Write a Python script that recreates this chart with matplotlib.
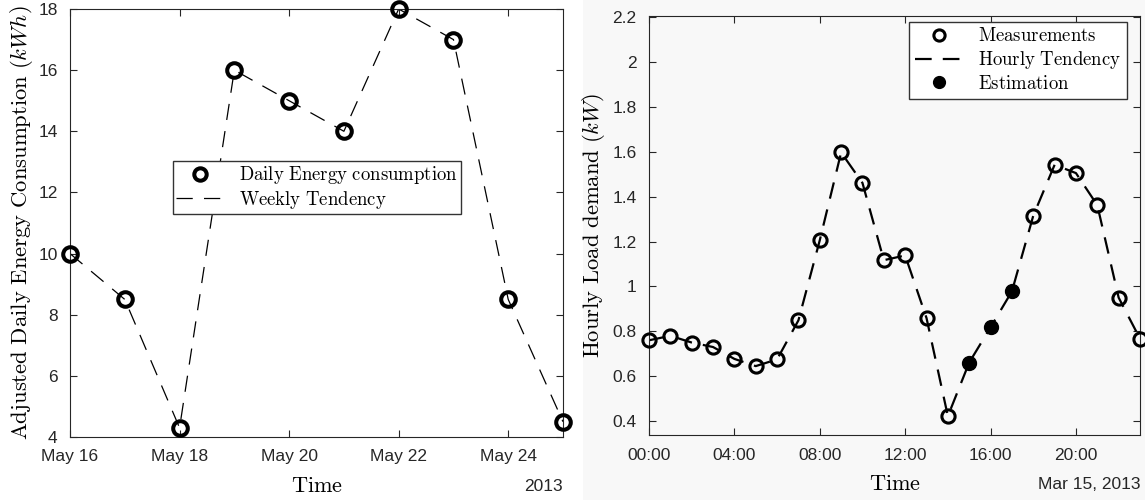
import matplotlib
matplotlib.use("Agg")
import matplotlib.pyplot as plt
import matplotlib.dates as mdates
from matplotlib.patches import Rectangle
import numpy as np
import datetime as dt

plt.rcParams['font.family'] = ['Liberation Sans', 'DejaVu Sans']
plt.rcParams['mathtext.fontset'] = 'cm'

# Left panel: daily energy consumption
days = [dt.datetime(2013, 5, d) for d in range(16, 26)]
daily_kwh = [10, 8.5, 4.3, 16, 15, 14, 18, 17, 8.5, 4.5]

# Right panel: hourly load on Mar 15, 2013
hours = [dt.datetime(2013, 3, 15, h) for h in range(24)]
hourly_kw = [0.76, 0.78, 0.75, 0.73, 0.677, 0.645, 0.675, 0.849, 1.206, 1.597,
             1.461, 1.117, 1.138, 0.859, 0.422, 0.661, 0.818, 0.978, 1.315, 1.542,
             1.505, 1.362, 0.95, 0.767]
est_idx = [15, 16, 17]
meas_idx = [i for i in range(24) if i not in est_idx]


def tex(s):
    return r'$\mathrm{' + s.replace(' ', r'\ ') + '}$'


fig = plt.figure(figsize=(11.45, 5), dpi=100)
fig.patches.append(Rectangle((583 / 1145, 0), 1 - 583 / 1145, 1, transform=fig.transFigure,
                             facecolor='#f8f8f8', edgecolor='none', zorder=-5))

ax1 = fig.add_axes([70 / 1145, 63 / 500, 493 / 1145, 428 / 500])
ax2 = fig.add_axes([649 / 1145, 65 / 500, 491 / 1145, 419 / 500])
ax2.set_facecolor('#f8f8f8')

# left
ax1.plot(days, daily_kwh, color='black', lw=0.9, linestyle=(0, (13, 9)), label=tex('Weekly Tendency'), zorder=2)
ax1.plot(days, daily_kwh, 'o', mfc='none', mec='black', mew=2.9, ms=10.5,
         label=tex('Daily Energy consumption'), zorder=3, clip_on=False)
ax1.set_xlim(days[0], days[-1])
ax1.set_ylim(4, 18)
ax1.set_yticks(range(4, 19, 2))
ax1.set_xticks(days[::2])
ax1.xaxis.set_major_formatter(mdates.DateFormatter('%b %d'))
ax1.set_ylabel(tex('Adjusted Daily Energy Consumption') + r'$\ (kWh)$', fontsize=16.3, labelpad=2)
ax1.set_xlabel(tex('Time'), fontsize=16, labelpad=8)
ax1.text(1.0, -0.098, '2013', transform=ax1.transAxes, ha='right', va='top', fontsize=12.5, color='#262626')
h, l = ax1.get_legend_handles_labels()
ax1.legend([h[1], h[0]], [l[1], l[0]], loc='center', bbox_to_anchor=(0.501, 0.583),
           fontsize=13.5, fancybox=False, edgecolor='#333333', framealpha=1,
           handlelength=2.6, borderpad=0.15, labelspacing=0.15, markerscale=0.85)

# right
ax2.plot(hours, hourly_kw, color='black', lw=1.6, linestyle=(0, (7.5, 5)), zorder=2, label=tex('Hourly Tendency'))
ax2.plot([hours[i] for i in meas_idx], [hourly_kw[i] for i in meas_idx], 'o', mfc='none', mec='black',
         mew=2.2, ms=9.5, zorder=3, clip_on=False, label=tex('Measurements'))
ax2.plot([hours[i] for i in est_idx], [hourly_kw[i] for i in est_idx], 'o', color='black',
         ms=10, zorder=3, label=tex('Estimation'))
ax2.set_xlim(hours[0], hours[-1])
ax2.set_ylim(0.338, 2.205)
ax2.set_yticks([0.4, 0.6, 0.8, 1.0, 1.2, 1.4, 1.6, 1.8, 2.0, 2.2])
ax2.set_yticklabels(['0.4', '0.6', '0.8', '1', '1.2', '1.4', '1.6', '1.8', '2', '2.2'])
ax2.set_xticks(hours[::4])
ax2.xaxis.set_major_formatter(mdates.DateFormatter('%H:%M'))
ax2.set_ylabel(tex('Hourly Load demand') + r'$\ (kW)$', fontsize=16.3, labelpad=4)
ax2.set_xlabel(tex('Time'), fontsize=16, labelpad=8)
ax2.text(1.0, -0.1, 'Mar 15, 2013', transform=ax2.transAxes, ha='right', va='top', fontsize=12.5, color='#262626')
h, l = ax2.get_legend_handles_labels()
ax2.legend([h[1], h[0], h[2]], [l[1], l[0], l[2]], loc='upper right', bbox_to_anchor=(0.9735, 0.986),
           borderaxespad=0, fontsize=13.5, fancybox=False, edgecolor='#333333', framealpha=1,
           facecolor='white', handlelength=2.6, borderpad=0.3, labelspacing=0.2, markerscale=0.85)

for ax in (ax1, ax2):
    ax.tick_params(direction='in', top=True, right=True, length=5, width=0.8,
                   labelsize=12.5, labelcolor='#262626', colors='#262626', pad=9)
    for s in ax.spines.values():
        s.set_color('#262626')
        s.set_linewidth(0.8)

fig.savefig('out.png', dpi=100)
